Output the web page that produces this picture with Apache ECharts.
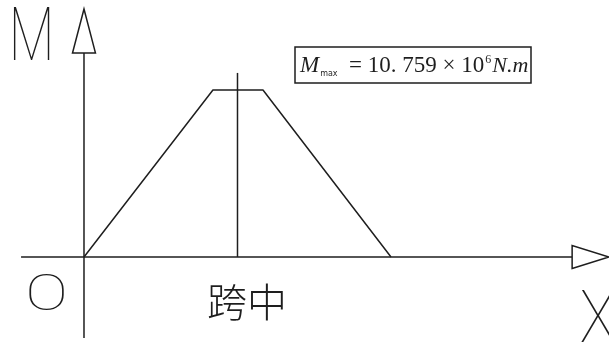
<!DOCTYPE html>
<html>
<head>
<meta charset="utf-8">
<script src="https://cdn.jsdelivr.net/npm/echarts@6/dist/echarts.min.js"></script>
<style>
  html, body { margin: 0; padding: 0; background: #fff; }
  #chart { width: 609px; height: 344px; }
</style>
</head>
<body>
<div id="chart"></div>
<script>
// span position (span = 10) and bending moment (10^6 N.m)
const spanX = [0, 4.2, 5.83, 10];
const moment = [0, 10.759, 10.759, 0];
const midspanX = 5;
const midspanTop = 11.86;
const mMax = '10. 759';

// axis extents in data units, [start, end, arrow tip]
const xAxisExtent = [-2.05, 15.9, 17.1];
const yAxisExtent = [-5.22, 13.14, 15.98];

const lineColor = '#1e1e1e';

const chart = echarts.init(document.getElementById('chart'));

function lineSeries(data) {
  return {
    type: 'line',
    data: data,
    symbol: 'none',
    silent: true,
    clip: false,
    lineStyle: { color: lineColor, width: 1.5 }
  };
}

let option = {
  animation: false,
  backgroundColor: '#fff',
  grid: { left: 0, right: 0, top: 0, bottom: 0 },
  xAxis: { type: 'value', min: -2.736, max: 17.101, show: false },
  yAxis: { type: 'value', min: -5.61, max: 16.56, show: false },
  series: [
    lineSeries([[xAxisExtent[0], 0], [xAxisExtent[1], 0]]),
    lineSeries([[0, yAxisExtent[0]], [0, yAxisExtent[1]]]),
    lineSeries(spanX.map((x, i) => [x, moment[i]])),
    lineSeries([[midspanX, 0], [midspanX, midspanTop]]),
    {
      // hollow arrow heads at the axis ends
      type: 'custom',
      silent: true,
      clip: false,
      data: [
        [xAxisExtent[1], 0, xAxisExtent[2], 0],
        [0, yAxisExtent[1], 0, yAxisExtent[2]]
      ],
      renderItem: function (params, api) {
        const base = api.coord([api.value(0), api.value(1)]);
        const tip = api.coord([api.value(2), api.value(3)]);
        const dx = tip[0] - base[0], dy = tip[1] - base[1];
        const len = Math.sqrt(dx * dx + dy * dy);
        const nx = -dy / len * 11.5, ny = dx / len * 11.5;
        return {
          type: 'polygon',
          shape: { points: [[base[0] + nx, base[1] + ny], tip, [base[0] - nx, base[1] - ny]] },
          style: { fill: '#fff', stroke: lineColor, lineWidth: 1.5 }
        };
      }
    }
  ],
  graphic: [
    {
      type: 'text', x: 31.5, y: 41.5, scaleX: 0.72,
      style: { text: 'M', x: 0, y: 0, align: 'center', verticalAlign: 'middle', font: '100 74px Roboto, Lato', fill: lineColor }
    },
    {
      type: 'text', x: 46.5, y: 297, scaleX: 1.28,
      style: { text: 'O', x: 0, y: 0, align: 'center', verticalAlign: 'middle', font: '100 50px Roboto, Lato', fill: lineColor }
    },
    {
      type: 'text', x: 598, y: 324, scaleX: 0.85,
      style: { text: 'X', x: 0, y: 0, align: 'center', verticalAlign: 'middle', font: '100 72px Roboto, Lato', fill: lineColor }
    },
    {
      type: 'text', x: 247, y: 302,
      style: { text: '跨中', x: 0, y: 0, align: 'center', verticalAlign: 'middle', font: '300 40px "Noto Sans CJK SC"', fill: lineColor }
    },
    {
      type: 'rect',
      shape: { x: 295, y: 47, width: 236, height: 36 },
      style: { fill: '#fff', stroke: lineColor, lineWidth: 1.5 }
    },
    {
      type: 'text', x: 300, y: 66,
      style: {
        text: '{m|M}{s|max}{n|  = 10. 759 × 10}{p|6}{i|N.m}'.replace('10. 759', mMax),
        x: 0, y: 0, align: 'left', verticalAlign: 'middle',
        fill: lineColor,
        rich: {
          m: { font: 'italic 23px "Liberation Serif"', fill: lineColor, lineHeight: 28 },
          s: { font: '8px "DejaVu Sans"', fill: lineColor, verticalAlign: 'bottom', lineHeight: 28, padding: [0, 0, 2, 1] },
          n: { font: '23px "Liberation Serif"', fill: lineColor, lineHeight: 28 },
          p: { font: '12px "Liberation Serif"', fill: lineColor, verticalAlign: 'top', lineHeight: 28, padding: [2, 1, 0, 1] },
          i: { font: 'italic 22px "Liberation Serif"', fill: lineColor, lineHeight: 28 }
        }
      }
    }
  ]
};

chart.setOption(option);
</script>
</body>
</html>
